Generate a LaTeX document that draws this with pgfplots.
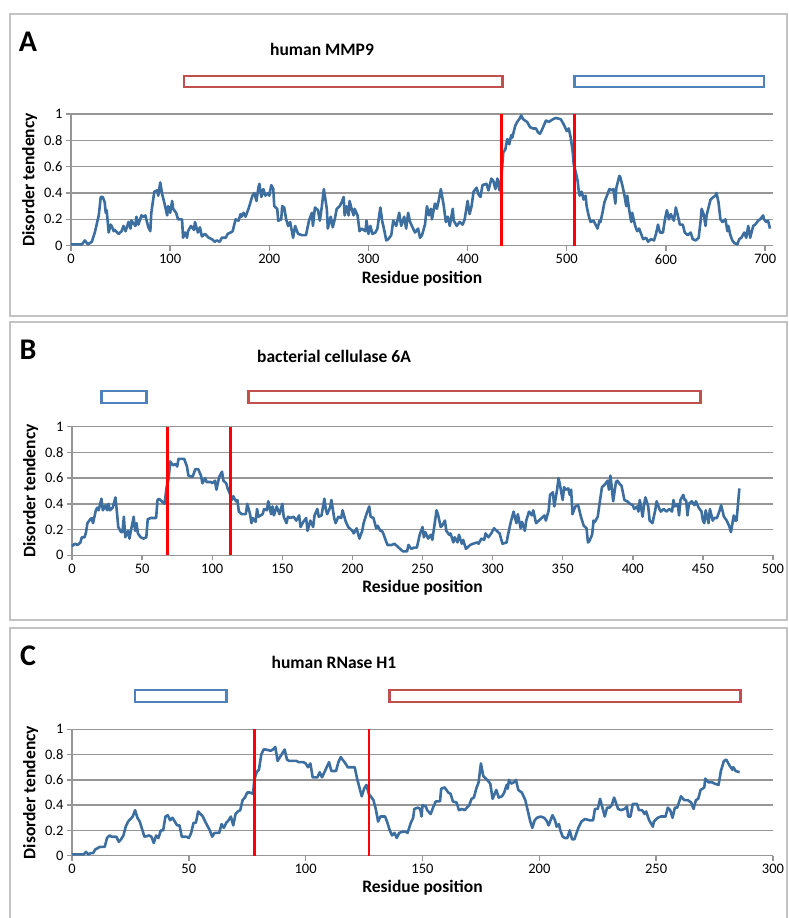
\documentclass[border=0pt]{standalone}
\usepackage{pgfplots}
\pgfplotsset{compat=1.18}
\usepackage{fontspec}
\setmainfont{Carlito}
\definecolor{curve}{RGB}{60,110,160}
\definecolor{domred}{RGB}{192,80,77}
\definecolor{domblue}{RGB}{79,129,189}
\definecolor{gridc}{RGB}{150,150,150}
\definecolor{panelc}{RGB}{195,195,195}
\pgfplotsset{
  panel/.style={
    scale only axis, anchor=south west, clip=false,
    ymin=0, ymax=1, ytick={0,0.2,0.4,0.6,0.8,1},
    yticklabels={0,0.2,0.4,0.6,0.8,1},
    axis x line*=bottom, axis y line*=left,
    tick align=outside, major tick length=5pt,
    ymajorgrids,
    major grid style={gridc, line width=1.4pt},
    axis line style={gridc, line width=1.4pt, -},
    major tick style={gridc, line width=1.4pt},
    tick label style={font=\fontsize{14.5}{16}\selectfont},
    /pgf/number format/assume math mode=true,
    label style={font=\bfseries\fontsize{17.5}{20}\selectfont},
    xlabel={Residue position}, ylabel={Disorder tendency},
  },
  dis/.style={curve, line width=2.6pt, line join=round, mark=none},
  redline/.style={red, line width=2.5pt, mark=none},
}
\begin{document}
\begin{tikzpicture}[x=1pt,y=1pt]
\path[use as bounding box] (0,0) rectangle (788,918);
\draw[panelc, line width=1.3pt] (10,904) rectangle (787,602);
\draw[panelc, line width=1.3pt] (10,596) rectangle (787,298);
\draw[panelc, line width=1.3pt] (10,290) rectangle (787,-10);
\node[font=\bfseries\fontsize{30}{32}\selectfont] at (28,876) {A};
\node[font=\bfseries\fontsize{17.5}{20}\selectfont] at (322,869) {human MMP9};
\node[font=\bfseries\fontsize{30}{32}\selectfont] at (28,568) {B};
\node[font=\bfseries\fontsize{17.5}{20}\selectfont] at (334,562) {bacterial cellulase 6A};
\node[font=\bfseries\fontsize{30}{32}\selectfont] at (28,262) {C};
\node[font=\bfseries\fontsize{17.5}{20}\selectfont] at (334,256) {human RNase H1};

\begin{axis}[panel, at={(71pt,672.3pt)}, width=702pt, height=131.7pt,
  xmin=0, xmax=708, xtick={0,100,...,700}]
\addplot[dis] coordinates {(0,0.01)(5,0.01)(11,0.01)(14,0.04)(17,0.01)(21,0.03)(24,0.10)(28,0.23)(30,0.37)(32,0.37)(34,0.33)(35,0.25)(36,0.27)(38,0.10)(40,0.16)(41,0.15)(43,0.11)(44,0.12)(48,0.09)(51,0.11)(53,0.15)(55,0.11)(58,0.18)(60,0.13)(61,0.19)(65,0.15)(66,0.22)(68,0.16)(71,0.23)(73,0.22)(75,0.23)(78,0.14)(80,0.11)(81,0.25)(84,0.41)(87,0.42)(88,0.38)(90,0.48)(92,0.39)(94,0.33)(97,0.23)(98,0.30)(100,0.25)(102,0.34)(103,0.28)(106,0.25)(108,0.20)(112,0.20)(113,0.06)(115,0.10)(117,0.06)(118,0.11)(121,0.15)(124,0.12)(125,0.18)(128,0.10)(130,0.14)(132,0.07)(135,0.09)(139,0.06)(142,0.05)(145,0.03)(147,0.04)(150,0.03)(152,0.06)(156,0.06)(158,0.09)(161,0.10)(163,0.11)(166,0.20)(169,0.19)(171,0.24)(172,0.22)(174,0.25)(176,0.22)(179,0.28)(181,0.33)(183,0.38)(185,0.40)(187,0.34)(189,0.44)(190,0.47)(192,0.37)(194,0.43)(196,0.38)(199,0.40)(200,0.38)(202,0.46)(204,0.43)(205,0.30)(208,0.28)(209,0.19)(212,0.20)(213,0.30)(215,0.29)(217,0.20)(219,0.15)(221,0.18)(224,0.06)(226,0.15)(229,0.09)(233,0.08)(237,0.08)(240,0.19)(243,0.25)(244,0.15)(246,0.29)(249,0.27)(251,0.19)(253,0.30)(255,0.43)(258,0.28)(259,0.13)(262,0.22)(264,0.14)(266,0.20)(268,0.28)(271,0.30)(273,0.33)(275,0.37)(276,0.23)(278,0.30)(280,0.23)(281,0.34)(283,0.28)(285,0.23)(286,0.28)(289,0.23)(291,0.11)(293,0.13)(297,0.11)(298,0.19)(300,0.09)(302,0.15)(304,0.09)(307,0.10)(309,0.13)(312,0.29)(314,0.18)(315,0.15)(318,0.04)(320,0.05)(323,0.08)(325,0.19)(328,0.15)(331,0.25)(333,0.15)(336,0.22)(338,0.13)(340,0.25)(342,0.18)(345,0.13)(347,0.10)(350,0.13)(352,0.06)(354,0.08)(357,0.16)(359,0.30)(361,0.23)(363,0.28)(364,0.20)(367,0.32)(369,0.28)(371,0.35)(373,0.43)(376,0.30)(378,0.18)(380,0.22)(382,0.15)(385,0.28)(386,0.19)(389,0.15)(392,0.18)(395,0.16)(397,0.20)(400,0.34)(402,0.24)(404,0.30)(406,0.41)(409,0.44)(411,0.39)(413,0.37)(415,0.46)(419,0.47)(421,0.42)(424,0.51)(426,0.49)(428,0.43)(430,0.51)(432,0.42)(434,0.52)(436,0.71)(438,0.73)(440,0.81)(442,0.77)(444,0.84)(445,0.82)(448,0.91)(450,0.94)(453,0.97)(454,0.99)(456,0.96)(460,0.94)(463,0.90)(466,0.89)(469,0.89)(471,0.86)(473,0.85)(475,0.88)(479,0.95)(482,0.94)(486,0.96)(489,0.97)(494,0.96)(497,0.92)(500,0.87)(502,0.89)(504,0.82)(506,0.71)(507,0.62)(509,0.56)(511,0.49)(512,0.42)(513,0.38)(515,0.41)(517,0.35)(519,0.38)(520,0.30)(522,0.23)(524,0.18)(527,0.19)(529,0.16)(531,0.13)(533,0.19)(534,0.18)(536,0.25)(538,0.33)(541,0.39)(543,0.43)(545,0.42)(547,0.43)(549,0.32)(550,0.44)(553,0.53)(554,0.52)(556,0.46)(558,0.39)(560,0.30)(561,0.38)(563,0.27)(565,0.18)(566,0.25)(569,0.15)(571,0.11)(573,0.13)(575,0.09)(577,0.05)(580,0.06)(582,0.03)(585,0.05)(588,0.04)(590,0.09)(592,0.16)(594,0.10)(597,0.10)(599,0.20)(601,0.27)(603,0.20)(605,0.24)(608,0.19)(610,0.29)(612,0.23)(614,0.16)(617,0.16)(619,0.10)(622,0.08)(625,0.10)(627,0.05)(630,0.04)(633,0.06)(635,0.19)(636,0.28)(638,0.24)(640,0.15)(641,0.23)(644,0.32)(645,0.35)(648,0.37)(650,0.38)(651,0.40)(653,0.33)(655,0.20)(657,0.18)(660,0.20)(662,0.11)(663,0.15)(665,0.08)(667,0.04)(669,0.02)(672,0.01)(674,0.05)(676,0.06)(679,0.10)(681,0.06)(683,0.15)(685,0.06)(688,0.15)(690,0.16)(693,0.19)(695,0.20)(698,0.23)(699,0.20)(701,0.18)(703,0.19)(705,0.13)};
\addplot[redline] coordinates {(434,0) (434,1)};
\addplot[redline] coordinates {(508,0) (508,1)};
\draw[domred, line width=2.8pt] (axis cs:114,1.205) rectangle (axis cs:435,1.289);
\draw[domblue, line width=2.8pt] (axis cs:508,1.205) rectangle (axis cs:699,1.289);
\end{axis}

\begin{axis}[panel, at={(72pt,362.7pt)}, width=701pt, height=128.6pt,
  xmin=0, xmax=500, xtick={0,50,...,500}]
\addplot[dis] coordinates {(0,0.07)(2,0.09)(4,0.08)(6,0.10)(7,0.14)(9,0.14)(10,0.18)(11,0.25)(13,0.28)(14,0.29)(15,0.25)(17,0.35)(18,0.37)(19,0.35)(21,0.44)(22,0.35)(24,0.39)(25,0.35)(26,0.40)(27,0.35)(29,0.37)(31,0.45)(32,0.34)(33,0.22)(35,0.18)(36,0.18)(37,0.30)(38,0.14)(40,0.19)(41,0.13)(42,0.19)(44,0.30)(45,0.19)(46,0.25)(47,0.17)(49,0.14)(51,0.13)(53,0.14)(54,0.28)(56,0.29)(60,0.29)(61,0.43)(62,0.44)(64,0.42)(66,0.40)(67.5,0.53)(69,0.60)(70,0.73)(72,0.70)(74,0.71)(75,0.69)(76,0.75)(79,0.75)(80,0.75)(82,0.69)(83,0.62)(86,0.61)(88,0.67)(90,0.67)(92,0.62)(93,0.56)(95,0.60)(96,0.57)(99,0.57)(100,0.56)(102,0.58)(103,0.51)(104,0.56)(105,0.61)(107,0.65)(108,0.58)(110,0.56)(111,0.52)(113,0.47)(114,0.43)(115,0.46)(117,0.42)(118,0.43)(119,0.34)(121,0.32)(124,0.32)(125,0.40)(127,0.32)(128,0.25)(129,0.29)(131,0.26)(132,0.36)(133,0.30)(136,0.32)(137,0.36)(139,0.35)(140,0.42)(142,0.32)(143,0.38)(144,0.31)(146,0.38)(148,0.32)(150,0.40)(151,0.30)(153,0.25)(154,0.30)(156,0.29)(158,0.30)(160,0.27)(162,0.31)(163,0.22)(165,0.26)(167,0.29)(168,0.19)(170,0.27)(172,0.22)(173,0.31)(175,0.36)(176,0.30)(178,0.31)(180,0.44)(181,0.36)(182,0.32)(184,0.37)(185,0.43)(187,0.29)(188,0.25)(190,0.30)(192,0.29)(193,0.35)(195,0.27)(197,0.22)(198,0.21)(200,0.19)(201,0.17)(203,0.21)(205,0.13)(207,0.19)(208,0.25)(210,0.32)(212,0.38)(213,0.30)(215,0.29)(217,0.21)(218,0.23)(220,0.19)(221,0.19)(222,0.17)(223,0.14)(225,0.08)(228,0.08)(230,0.09)(232,0.07)(234,0.05)(236,0.03)(239,0.03)(240,0.08)(242,0.05)(244,0.06)(246,0.06)(248,0.16)(250,0.22)(251,0.14)(252,0.18)(254,0.13)(256,0.16)(257,0.12)(259,0.27)(260,0.35)(261,0.32)(263,0.22)(264,0.23)(266,0.27)(267,0.19)(269,0.16)(270,0.17)(272,0.10)(273,0.14)(275,0.10)(276,0.16)(278,0.09)(279,0.12)(281,0.05)(284,0.08)(286,0.09)(289,0.10)(290,0.09)(292,0.13)(294,0.12)(295,0.17)(297,0.14)(299,0.17)(301,0.21)(303,0.19)(305,0.17)(307,0.09)(310,0.10)(311,0.16)(313,0.26)(315,0.34)(316,0.29)(317,0.25)(318,0.32)(320,0.21)(321,0.26)(323,0.19)(324,0.27)(326,0.34)(328,0.31)(329,0.35)(331,0.25)(333,0.27)(335,0.29)(337,0.31)(338,0.27)(340,0.35)(341,0.47)(343,0.49)(344,0.38)(346,0.51)(347,0.60)(348,0.55)(350,0.43)(351,0.53)(352,0.51)(354,0.52)(355,0.47)(356,0.51)(357,0.32)(359,0.38)(361,0.39)(363,0.30)(365,0.23)(367,0.21)(368,0.10)(369,0.11)(371,0.16)(372,0.27)(373,0.26)(375,0.30)(376,0.38)(378,0.53)(380,0.55)(382,0.58)(383,0.51)(384,0.62)(385,0.53)(386,0.42)(388,0.57)(389,0.58)(391,0.55)(392,0.54)(394,0.43)(396,0.42)(398,0.40)(400,0.39)(401,0.36)(403,0.38)(404,0.34)(405,0.43)(407,0.30)(408,0.39)(409,0.45)(411,0.38)(412,0.27)(414,0.25)(416,0.35)(417,0.42)(419,0.36)(420,0.34)(422,0.36)(424,0.34)(426,0.36)(428,0.34)(429,0.43)(430,0.38)(432,0.40)(433,0.31)(434,0.43)(436,0.47)(437,0.43)(438,0.43)(439,0.31)(440,0.40)(442,0.42)(444,0.39)(445,0.42)(447,0.37)(449,0.34)(450,0.27)(451,0.25)(452,0.35)(454,0.25)(455,0.36)(457,0.27)(458,0.29)(460,0.29)(462,0.35)(463,0.39)(465,0.30)(467,0.27)(469,0.22)(470,0.18)(472,0.31)(473,0.27)(474,0.27)(476,0.52)};
\addplot[redline] coordinates {(68,0) (68,1)};
\addplot[redline] coordinates {(113,0) (113,1)};
\draw[domblue, line width=2.8pt] (axis cs:21,1.184) rectangle (axis cs:53,1.278);
\draw[domred, line width=2.8pt] (axis cs:126,1.184) rectangle (axis cs:448,1.278);
\end{axis}

\begin{axis}[panel, at={(72pt,62.3pt)}, width=701pt, height=126.4pt,
  xmin=0, xmax=300, xtick={0,50,...,300}]
\addplot[dis] coordinates {(0,0.01)(5,0.01)(6,0.03)(7,0.01)(8,0.02)(9,0.02)(10,0.05)(12,0.07)(13,0.07)(14,0.07)(15,0.14)(16,0.16)(17,0.15)(19,0.15)(20,0.11)(21,0.13)(22,0.16)(23,0.23)(24,0.27)(25,0.29)(26,0.31)(27,0.36)(28,0.30)(29,0.27)(30,0.21)(31,0.15)(33,0.16)(34,0.15)(35,0.10)(36,0.16)(37,0.14)(38,0.20)(39,0.20)(40,0.31)(41,0.32)(42,0.28)(43,0.30)(44,0.27)(45,0.24)(46,0.24)(47,0.15)(49,0.15)(50,0.14)(51,0.18)(52,0.26)(53,0.26)(54,0.35)(55,0.33)(56,0.31)(57,0.27)(59,0.20)(60,0.15)(61,0.18)(63,0.18)(64,0.25)(65,0.22)(66,0.26)(67,0.28)(68,0.31)(69,0.24)(70,0.33)(71,0.35)(72,0.36)(73,0.44)(74,0.46)(75,0.50)(76,0.50)(77.5,0.49)(78,0.60)(79,0.66)(80,0.68)(81,0.80)(82,0.84)(83,0.84)(85,0.83)(86,0.84)(87,0.86)(88,0.75)(89,0.78)(91,0.84)(92,0.76)(93,0.75)(96,0.75)(97,0.74)(99,0.74)(100,0.73)(101,0.70)(102,0.73)(103,0.62)(105,0.62)(106,0.66)(107,0.62)(108,0.66)(109,0.70)(110,0.74)(111,0.67)(113,0.67)(114,0.74)(115,0.78)(117,0.73)(118,0.70)(121,0.70)(122,0.61)(123,0.54)(124,0.47)(125,0.53)(126,0.56)(127,0.49)(129,0.44)(130,0.37)(131,0.27)(132,0.31)(134,0.31)(135,0.26)(136,0.20)(137,0.16)(138,0.18)(139,0.14)(140,0.18)(141.5,0.19)(143,0.19)(143.6,0.18)(145,0.26)(146,0.30)(146.5,0.37)(148,0.38)(149,0.37)(149.6,0.31)(150,0.40)(151.4,0.39)(152,0.36)(153.5,0.33)(154.7,0.39)(155.7,0.43)(157.5,0.43)(158,0.53)(159.5,0.54)(161,0.50)(162,0.49)(163,0.43)(164.6,0.42)(165.6,0.36)(167,0.37)(168,0.36)(170,0.40)(171,0.45)(172,0.46)(173,0.53)(174,0.58)(175,0.73)(176,0.63)(177.7,0.60)(179,0.57)(180,0.45)(181.6,0.52)(182.6,0.46)(184,0.47)(185,0.50)(186,0.56)(186.5,0.53)(187,0.60)(188,0.57)(189,0.58)(190,0.60)(191,0.52)(192.5,0.50)(194,0.44)(195,0.36)(196,0.28)(197,0.22)(198,0.28)(199,0.30)(200.6,0.31)(202,0.30)(203,0.28)(204,0.24)(205,0.29)(205.6,0.32)(206.7,0.28)(207.4,0.23)(208.4,0.25)(209,0.20)(210,0.15)(211,0.14)(212,0.14)(213,0.20)(214,0.13)(215,0.13)(216.7,0.22)(218,0.27)(219.5,0.29)(221.6,0.28)(223,0.28)(223.8,0.37)(225,0.37)(226,0.45)(227,0.38)(228,0.31)(229,0.38)(230,0.38)(231,0.40)(232,0.46)(233.7,0.37)(235,0.36)(236.5,0.37)(237.5,0.39)(238,0.31)(239,0.31)(240,0.41)(241.8,0.41)(242.6,0.36)(244,0.36)(245,0.33)(245.7,0.35)(247,0.28)(248.6,0.23)(249,0.27)(250.7,0.30)(252,0.31)(254,0.31)(255,0.38)(256,0.36)(257,0.30)(258,0.38)(259,0.38)(260.6,0.47)(262,0.44)(263.5,0.44)(265,0.42)(266,0.37)(267,0.44)(268,0.45)(269,0.52)(270.6,0.54)(271,0.61)(272.4,0.58)(274,0.58)(275,0.57)(276.7,0.56)(277.7,0.67)(279,0.75)(280,0.76)(281.5,0.71)(282.6,0.68)(283,0.70)(284,0.67)(285.7,0.66)};
\addplot[redline] coordinates {(78,0) (78,1)};
\addplot[redline] coordinates {(127,0) (127,1)};
\draw[domblue, line width=2.8pt] (axis cs:27,1.216) rectangle (axis cs:66,1.311);
\draw[domred, line width=2.8pt] (axis cs:136,1.216) rectangle (axis cs:286,1.311);
\end{axis}
\end{tikzpicture}
\end{document}
